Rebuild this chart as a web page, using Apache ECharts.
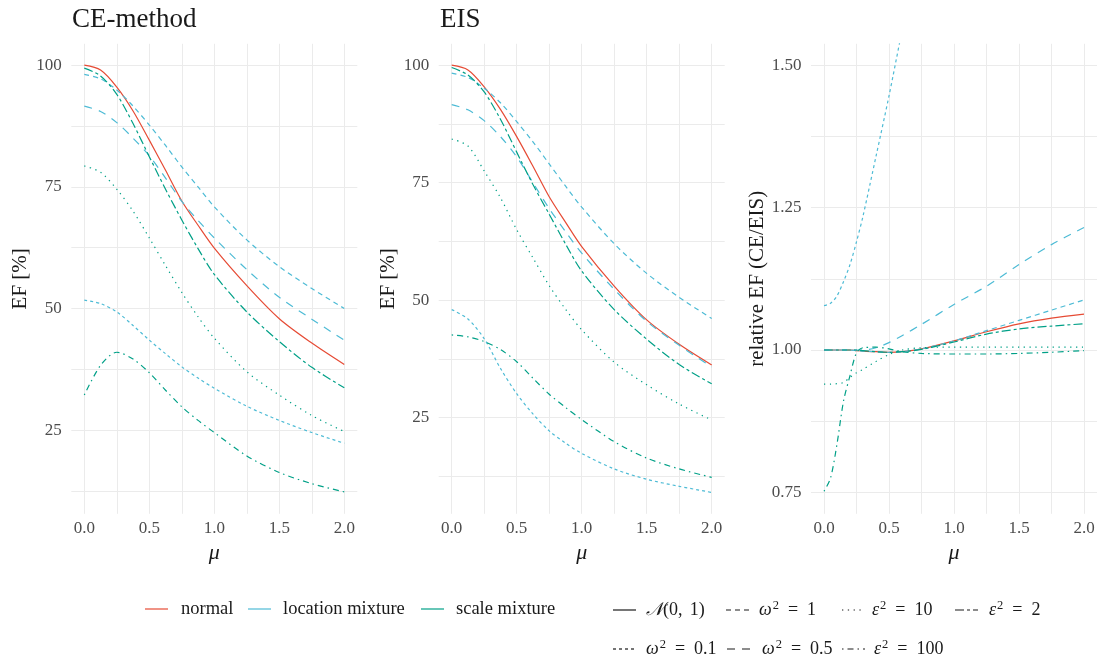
<!DOCTYPE html>
<html><head><meta charset="utf-8">
<script src="https://cdn.jsdelivr.net/npm/echarts@6/dist/echarts.min.js"></script>
<style>html,body{margin:0;padding:0;background:#fff}#c{width:1103px;height:662px}</style>
</head><body><div id="c"></div>
<script>
// ---------- data ----------
const muMain = [0, 0.125, 0.25, 0.375, 0.5, 0.625, 0.75, 0.875, 1.0, 1.25, 1.5, 1.75, 2.0];
const muRel  = [0, 0.05, 0.1, 0.15, 0.2, 0.25, 0.3, 0.4, 0.5, 0.6, 0.75, 1.0, 1.25, 1.5, 1.75, 2.0];

const xTicks = [0, 0.25, 0.5, 0.75, 1, 1.25, 1.5, 1.75, 2];
const xLabels = [0, 0.5, 1, 1.5, 2];
const yTicksEF = [12.5, 25, 37.5, 50, 62.5, 75, 87.5, 100];
const yLabelsEF = [25, 50, 75, 100];
const yTicksRel = [0.75, 0.875, 1, 1.125, 1.25, 1.375, 1.5];
const yLabelsRel = [0.75, 1, 1.25, 1.5];

const panelTitles = ['CE-method', 'EIS', ''];
const yTitles = ['EF [%]', 'EF [%]', 'relative EF (CE/EIS)'];

// CE-method EF [%]
const ceNormal   = [100, 99.0, 95.5, 90.6, 84.6, 78.4, 72.1, 67.1, 62.4, 54.7, 47.9, 42.9, 38.5];
const ceLoc1     = [98.1, 97.2, 94.9, 91.6, 87.7, 83.5, 79.1, 75.0, 70.9, 64.1, 58.6, 54.1, 50.0];
const ceLoc05    = [91.6, 90.5, 88.2, 85.0, 81.4, 76.8, 72.0, 68.1, 64.5, 58.0, 52.3, 47.8, 43.5];
const ceLoc01    = [51.7, 51.0, 49.3, 46.5, 43.5, 40.7, 38.0, 35.7, 33.6, 29.9, 27.0, 24.5, 22.3];
const ceScale10  = [79.3, 78.0, 74.5, 70.0, 64.5, 58.8, 53.3, 48.3, 43.9, 37.0, 32.2, 28.0, 24.7];
const ceScale2   = [99.4, 97.8, 94.0, 88.0, 81.2, 74.5, 68.2, 62.3, 57.0, 49.3, 43.2, 37.9, 33.7];
const ceScale100 = [32.2, 38.3, 41.0, 39.6, 36.8, 33.2, 29.8, 27.0, 24.5, 19.7, 16.3, 14.0, 12.3];

// EIS EF [%]
const eisNormal   = [100, 99.0, 95.4, 90.6, 84.8, 78.5, 72.0, 66.6, 61.4, 53.0, 45.8, 40.6, 36.2];
const eisLoc1     = [98.3, 97.4, 95.1, 92.0, 88.0, 83.7, 79.0, 74.3, 69.8, 62.0, 55.7, 50.6, 46.1];
const eisLoc05    = [91.6, 90.5, 88.2, 84.8, 80.5, 75.0, 69.5, 64.6, 60.0, 52.3, 45.5, 40.4, 35.8];
const eisLoc01    = [48.0, 46.0, 41.8, 35.5, 30.1, 25.8, 22.2, 19.6, 17.4, 14.1, 11.9, 10.4, 9.1];
const eisScale10  = [84.3, 82.8, 77.5, 71.8, 65.0, 59.0, 53.1, 48.1, 43.7, 36.8, 32.0, 27.9, 24.5];
const eisScale2   = [99.5, 97.9, 94.3, 88.5, 81.5, 74.6, 68.3, 62.0, 56.2, 48.0, 41.7, 36.3, 32.2];
const eisScale100 = [42.6, 42.2, 41.2, 39.5, 36.9, 33.4, 30.0, 27.2, 24.6, 19.9, 16.4, 14.1, 12.3];

// relative EF (CE/EIS)
const relNormal   = [1.0, 1.0, 1.0, 1.0, 1.0, 0.999, 0.998, 0.997, 0.996, 0.997, 1.002, 1.016, 1.032, 1.046, 1.056, 1.063];
const relLoc1     = [1.0, 1.0, 1.0, 1.0, 1.0, 0.999, 0.998, 0.997, 0.996, 0.997, 1.002, 1.016, 1.034, 1.052, 1.070, 1.088];
const relLoc05    = [1.0, 1.0, 1.0, 1.0, 1.0, 1.0, 1.0, 1.004, 1.013, 1.025, 1.045, 1.080, 1.112, 1.150, 1.185, 1.215];
const relLoc01    = [1.078, 1.082, 1.095, 1.12, 1.15, 1.19, 1.235, 1.34, 1.446, 1.56, 1.72, 1.95, 2.1, 2.25, 2.37, 2.45];
const relScale10  = [0.94, 0.94, 0.941, 0.943, 0.952, 0.960, 0.966, 0.980, 0.992, 1.0, 1.004, 1.005, 1.005, 1.005, 1.005, 1.005];
const relScale2   = [1.0, 1.0, 1.0, 1.0, 1.0, 1.0, 0.999, 0.997, 0.996, 0.997, 1.001, 1.014, 1.028, 1.037, 1.042, 1.046];
const relScale100 = [0.752, 0.775, 0.835, 0.91, 0.955, 0.995, 1.004, 1.005, 1.002, 0.997, 0.994, 0.993, 0.993, 0.994, 0.996, 0.999];

const familyNames = ['normal', 'location mixture', 'scale mixture'];
const ltNames = ['N01', 'w1', 'e10', 'e2', 'w01', 'w05', 'e100'];

// ---------- styles ----------
const FONT = '"Liberation Serif", "DejaVu Serif", serif';
const famColor = {'normal': '#E64B35', 'location mixture': '#4DBBD5', 'scale mixture': '#00A087'};
const ltDash = {N01: 'solid', w1: [5, 4], e10: [1.3, 4.5], e2: [9, 3, 3, 3], w01: [3, 3], w05: [8, 7], e100: [1.5, 4, 6, 4]};

const curves = [
  {fam: 'normal', lt: 'N01', ce: ceNormal, eis: eisNormal, rel: relNormal},
  {fam: 'location mixture', lt: 'w1', ce: ceLoc1, eis: eisLoc1, rel: relLoc1},
  {fam: 'location mixture', lt: 'w05', ce: ceLoc05, eis: eisLoc05, rel: relLoc05},
  {fam: 'location mixture', lt: 'w01', ce: ceLoc01, eis: eisLoc01, rel: relLoc01},
  {fam: 'scale mixture', lt: 'e10', ce: ceScale10, eis: eisScale10, rel: relScale10},
  {fam: 'scale mixture', lt: 'e2', ce: ceScale2, eis: eisScale2, rel: relScale2},
  {fam: 'scale mixture', lt: 'e100', ce: ceScale100, eis: eisScale100, rel: relScale100}
];

const G = {top: 43.8, height: 470, width: 286};
const lefts = [71.3, 438.7, 811];
const yRanges = [[7.8, 104.4], [4.55, 104.55], [0.7125, 1.5375]];

const grids = lefts.map(l => ({left: l, top: G.top, width: G.width, height: G.height, containLabel: false}));
const xAxes = lefts.map((l, i) => ({
  type: 'value', gridIndex: i, min: -0.1, max: 2.1,
  axisLine: {show: false},
  axisTick: {show: false, customValues: xTicks},
  splitLine: {show: true, lineStyle: {color: '#EBEBEB', width: 1}},
  axisLabel: {customValues: xLabels, margin: 6, color: '#4D4D4D', fontFamily: FONT, fontSize: 17,
              formatter: v => Number(v).toFixed(1)}
}));
const yAxes = lefts.map((l, i) => ({
  type: 'value', gridIndex: i, min: yRanges[i][0], max: yRanges[i][1],
  axisLine: {show: false},
  axisTick: {show: false, customValues: i < 2 ? yTicksEF : yTicksRel},
  splitLine: {show: true, lineStyle: {color: '#EBEBEB', width: 1}},
  axisLabel: {customValues: i < 2 ? yLabelsEF : yLabelsRel, margin: 9.5, color: '#4D4D4D', fontFamily: FONT, fontSize: 17,
              formatter: v => i < 2 ? String(Math.round(v)) : Number(v).toFixed(2)}
}));

const series = [];
curves.forEach(c => {
  [['ce', muMain], ['eis', muMain], ['rel', muRel]].forEach(([k, mu], i) => {
    series.push({
      type: 'line', xAxisIndex: i, yAxisIndex: i, name: c.fam + ' ' + c.lt,
      data: mu.map((m, j) => [m, c[k][j]]),
      showSymbol: false, smooth: 0.3, clip: true,
      lineStyle: {color: famColor[c.fam], width: 1.2, type: ltDash[c.lt]},
      z: 2
    });
  });
});

// ---------- legend / titles (graphic) ----------
const graphic = [];
function txt(x, y, text, font, opts) {
  graphic.push({type: 'text', x: x, y: y, style: Object.assign({text: text, font: font, fill: '#1A1A1A', align: 'left', verticalAlign: 'middle'}, opts || {})});
}
function key(x1, x2, y, color, dash) {
  graphic.push({type: 'line', shape: {x1: x1, y1: y, x2: x2, y2: y},
    style: {stroke: color, lineWidth: 1.2, lineDash: dash === 'solid' ? null : dash}});
}
txt(72, 20, panelTitles[0], '27px ' + FONT);
txt(440, 20, panelTitles[1], '27px ' + FONT);
const yTitleX = [20, 388, 757];
yTitleX.forEach((x, i) => {
  graphic.push({type: 'text', x: x, y: 278.8, rotation: Math.PI / 2,
    style: {text: yTitles[i], font: '21px ' + FONT, fill: '#1A1A1A', align: 'center', verticalAlign: 'middle'}});
});
lefts.forEach(l => {
  graphic.push({type: 'text', x: l + 143, y: 553,
    style: {text: 'μ', font: 'italic 22px ' + FONT, fill: '#1A1A1A', align: 'center', verticalAlign: 'middle'}});
});
// colour legend
const famKeyX = [145, 248, 421];
const famTextX = [181, 283, 456];
familyNames.forEach((f, i) => {
  key(famKeyX[i], famKeyX[i] + 23, 609, famColor[f], 'solid');
  txt(famTextX[i], 609, f, '18.5px ' + FONT);
});
// linetype legend
const ltKey = {N01: [613, 610], w1: [726, 610], e10: [842, 610], e2: [955, 610], w01: [613, 649], w05: [727, 649], e100: [842, 649]};
const ltTextX = {N01: 646, w1: 759, e10: 872, e2: 989, w01: 646, w05: 762, e100: 874};
const richMath = {
  it: {fontFamily: FONT, fontStyle: 'italic', fontSize: 18, fill: '#1A1A1A'},
  rm: {fontFamily: FONT, fontSize: 18, fill: '#1A1A1A'},
  sup: {fontFamily: FONT, fontSize: 12.5, fill: '#1A1A1A', padding: [0, 0, 8, 1]}
};
const EQ = '\u2002=\u2002';
const ltLabel = {
  N01: '{it|𝒩}{rm|(0,\u2009\u20091)}',
  w1: '{it|ω}{sup|2}{rm|' + EQ + '1}',
  e10: '{it|ε}{sup|2}{rm|' + EQ + '10}',
  e2: '{it|ε}{sup|2}{rm|' + EQ + '2}',
  w01: '{it|ω}{sup|2}{rm|' + EQ + '0.1}',
  w05: '{it|ω}{sup|2}{rm|' + EQ + '0.5}',
  e100: '{it|ε}{sup|2}{rm|' + EQ + '100}'
};
ltNames.forEach(k => {
  const [x, y] = ltKey[k];
  key(x, x + 23, y, '#1A1A1A', ltDash[k]);
  graphic.push({type: 'text', x: ltTextX[k], y: y,
    style: {text: ltLabel[k], rich: richMath, align: 'left', verticalAlign: 'middle', font: '18px ' + FONT, fill: '#1A1A1A'}});
});

const chart = echarts.init(document.getElementById('c'), null, {renderer: 'canvas'});
chart.setOption({
  backgroundColor: '#FFFFFF',
  animation: false,
  grid: grids, xAxis: xAxes, yAxis: yAxes, series: series, graphic: graphic
});
</script>
</body></html>
